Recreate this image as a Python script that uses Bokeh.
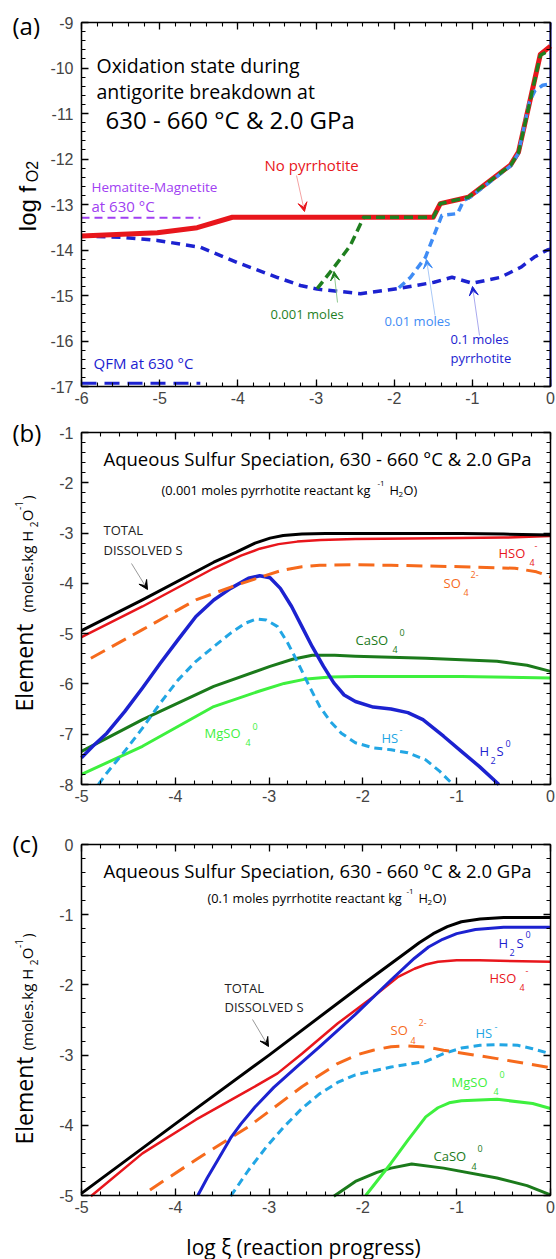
import numpy as np
from bokeh.plotting import figure
from bokeh.layouts import column
from bokeh.models import (Label, Arrow, VeeHead, FixedTicker, LinearAxis,
                          CustomJSTickFormatter, Range1d)
from bokeh.embed import file_html
from bokeh.resources import INLINE

# ---------------- DATA ----------------
# Panel (a): log fO2 vs log xi
a_nopo_x = [-6.0, -5.03, -4.52, -4.07, -1.50, -1.41, -1.05, -0.51, -0.41, -0.13, 0.0]
a_nopo_y = [-13.69, -13.62, -13.51, -13.28, -13.28, -12.98, -12.84, -12.13, -11.85, -9.70, -9.52]

a_po001_x = [-2.985, -2.77, -2.56, -2.39, -1.50, -1.41, -1.05, -0.51, -0.41, -0.13, 0.0]
a_po001_y = [-14.85, -14.38, -13.90, -13.28, -13.28, -12.98, -12.84, -12.14, -11.86, -9.72, -9.60]

a_po01_x = [-1.94, -1.79, -1.60, -1.45, -1.39, -1.19, -1.11, -1.02, -0.51, -0.41, -0.27, -0.20, -0.10, 0.0]
a_po01_y = [-14.83, -14.60, -14.16, -13.50, -13.24, -13.20, -12.91, -12.83, -12.15, -11.87, -10.75, -10.50, -10.38, -10.35]

a_po1_x = [-6.0, -5.5, -5.03, -4.48, -4.0, -3.5, -3.2, -2.985, -2.43, -1.96, -1.49, -1.26, -1.0,
           -0.64, -0.38, -0.21, -0.04, 0.0]
a_po1_y = [-13.69, -13.72, -13.79, -13.94, -14.28, -14.60, -14.78, -14.86, -14.96, -14.85, -14.71,
           -14.60, -14.73, -14.60, -14.38, -14.16, -14.0, -13.98]

a_edge_x = [0.0, 0.0]
a_edge_y = [-17.0, -9.0]

a_hm_x = [-6.0, -4.48]
a_hm_y = [-13.29, -13.29]
a_qfm_x = [-6.0, -4.48]
a_qfm_y = [-16.93, -16.93]

# Panel (b): 0.001 moles pyrrhotite
b_total_x = [-5.0, -4.35, -3.59, -3.35, -3.15, -2.99, -2.85, -2.65, -2.40, -2.08, -1.5, -0.95, -0.5, 0.0]
b_total_y = [-4.94, -4.33, -3.58, -3.38, -3.20, -3.10, -3.05, -3.02, -3.01, -3.01, -3.01, -3.01, -3.02, -3.04]

b_hso4_x = [-5.0, -4.35, -3.59, -3.30, -3.10, -2.90, -2.70, -2.45, -2.08, -1.5, -0.95, -0.5, 0.0]
b_hso4_y = [-5.07, -4.46, -3.70, -3.45, -3.31, -3.22, -3.17, -3.14, -3.12, -3.11, -3.10, -3.09, -3.06]

b_so4_x = [-4.90, -4.35, -3.78, -3.40, -3.10, -2.88, -2.65, -2.46, -2.08, -1.70, -0.95, -0.38, -0.15, 0.0]
b_so4_y = [-5.49, -4.92, -4.33, -4.07, -3.88, -3.75, -3.67, -3.64, -3.63, -3.64, -3.67, -3.70, -3.77, -3.87]

b_h2s_x = [-5.0, -4.88, -4.73, -4.54, -4.35, -4.16, -3.97, -3.78, -3.59, -3.41, -3.22, -3.10,
           -2.99, -2.88, -2.76, -2.65, -2.54, -2.42, -2.31, -2.20, -2.08, -1.89, -1.70, -1.52,
           -1.36, -1.14, -0.95, -0.76, -0.55]
b_h2s_y = [-7.47, -7.24, -6.98, -6.55, -6.08, -5.59, -5.12, -4.66, -4.33, -4.10, -3.90, -3.85,
           -3.89, -4.10, -4.46, -4.86, -5.26, -5.65, -5.98, -6.22, -6.35, -6.46, -6.50, -6.57,
           -6.71, -7.04, -7.34, -7.64, -8.0]

b_hs_x = [-4.82, -4.73, -4.54, -4.35, -4.16, -3.97, -3.78, -3.59, -3.41, -3.25, -3.14, -3.03,
          -2.91, -2.80, -2.69, -2.57, -2.46, -2.35, -2.23, -2.08, -1.89, -1.70, -1.52, -1.33,
          -1.18, -1.04]
b_hs_y = [-8.0, -7.77, -7.34, -6.88, -6.38, -5.92, -5.55, -5.26, -4.99, -4.79, -4.71, -4.73,
          -4.86, -5.19, -5.59, -6.05, -6.45, -6.74, -6.98, -7.17, -7.27, -7.31, -7.37, -7.51,
          -7.74, -8.0]

b_caso4_x = [-5.0, -4.35, -3.59, -2.99, -2.75, -2.54, -2.30, -2.08, -1.33, -0.57, -0.25, 0.0]
b_caso4_y = [-7.34, -6.71, -6.05, -5.65, -5.51, -5.43, -5.43, -5.45, -5.49, -5.55, -5.63, -5.75]

b_mgso4_x = [-5.0, -4.35, -3.59, -3.10, -2.84, -2.60, -2.35, -2.08, -0.95, 0.0]
b_mgso4_y = [-7.80, -7.24, -6.45, -6.14, -5.99, -5.90, -5.86, -5.85, -5.85, -5.88]

# Panel (c): 0.1 moles pyrrhotite
c_total_x = [-5.0, -4.0, -3.0, -2.0, -1.5, -1.40, -1.25, -1.10, -0.95, -0.75, -0.5, 0.0]
c_total_y = [-4.97, -3.98, -3.0, -1.99, -1.50, -1.40, -1.27, -1.17, -1.10, -1.06, -1.04, -1.04]

c_h2s_x = [-3.76, -3.66, -3.55, -3.41, -3.30, -3.15, -2.95, -2.70, -2.46, -2.08, -1.70, -1.45,
           -1.30, -1.15, -1.0, -0.80, -0.5, 0.0]
c_h2s_y = [-5.0, -4.75, -4.50, -4.18, -3.98, -3.74, -3.46, -3.16, -2.88, -2.42, -1.93, -1.62,
           -1.46, -1.35, -1.27, -1.21, -1.18, -1.18]

c_hso4_x = [-4.90, -4.35, -3.78, -3.22, -2.91, -2.65, -2.27, -1.89, -1.63, -1.45, -1.33, -1.20,
            -1.0, -0.76, 0.0]
c_hso4_y = [-5.01, -4.40, -3.92, -3.50, -3.26, -2.98, -2.55, -2.17, -1.89, -1.77, -1.71, -1.67,
            -1.65, -1.65, -1.67]

c_so4_x = [-4.27, -3.78, -3.22, -2.65, -2.27, -2.05, -1.89, -1.70, -1.52, -1.30, -1.14, -0.57, 0.0]
c_so4_y = [-4.92, -4.49, -4.02, -3.45, -3.12, -2.99, -2.93, -2.88, -2.87, -2.89, -2.93, -3.05, -3.18]

c_hs_x = [-3.41, -3.22, -3.03, -2.84, -2.65, -2.46, -2.27, -2.08, -1.70, -1.33, -1.14, -0.95,
          -0.75, -0.57, -0.35, -0.19, 0.0]
c_hs_y = [-5.01, -4.64, -4.31, -4.02, -3.76, -3.55, -3.39, -3.28, -3.17, -3.09, -2.98, -2.90,
          -2.86, -2.85, -2.86, -2.91, -2.98]

c_mgso4_x = [-1.97, -1.70, -1.52, -1.33, -1.20, -1.08, -0.95, -0.57, -0.19, 0.0]
c_mgso4_y = [-5.0, -4.54, -4.21, -3.88, -3.75, -3.68, -3.65, -3.63, -3.69, -3.76]

c_caso4_x = [-2.31, -2.08, -1.85, -1.70, -1.48, -1.14, -0.57, -0.25, 0.0]
c_caso4_y = [-5.01, -4.80, -4.67, -4.61, -4.55, -4.61, -4.75, -4.86, -4.99]

# Ticks
a_xticks = [-6, -5, -4, -3, -2, -1, 0]
a_xlabels = ["-6", "-5", "-4", "-3", "-2", "-1", "0"]
a_yticks = [-17, -16, -15, -14, -13, -12, -11, -10, -9]
a_ylabels = ["-17", "-16", "-15", "-14", "-13", "-12", "-11", "-10", "-9"]
bc_xticks = [-5, -4, -3, -2, -1, 0]
bc_xlabels = ["-5", "-4", "-3", "-2", "-1", "0"]
b_yticks = [-8, -7, -6, -5, -4, -3, -2, -1]
b_ylabels = ["-8", "-7", "-6", "-5", "-4", "-3", "-2", "-1"]
c_yticks = [-5, -4, -3, -2, -1, 0]
c_ylabels = ["-5", "-4", "-3", "-2", "-1", "0"]

# ---------------- STYLE ----------------
RED = "#e8161c"
GREEN_D = "#1f7f1f"
LBLUE = "#3f8cf5"
DBLUE = "#1c22d0"
PURPLE = "#a040f2"
ORANGE = "#f66a1c"
CYAN = "#22a6e4"
CA_GREEN = "#1b7a1b"
MG_GREEN = "#3ef03e"
ANN = "Open Sans"
TICKF = "Liberation Sans"

PAGE_LEFT = 81      # page x of data box left
PAGE_RIGHT = 550    # page x of data box right
FIG_LEFT = 0
FIG_W = 556


def minor(lo, hi, step=0.2):
    n = int(round((hi - lo) / step))
    return [round(lo + i * step, 6) for i in range(n + 1)]


def make_fig(xr, yr, page_top, height, box_top, box_bot, xt, xl, yt, yl):
    ppx = (PAGE_RIGHT - PAGE_LEFT) / (xr[1] - xr[0])
    ppy = (box_bot - box_top) / (yr[1] - yr[0])
    x_range = Range1d(xr[0] - (PAGE_LEFT - FIG_LEFT) / ppx,
                      xr[1] + (FIG_LEFT + FIG_W - PAGE_RIGHT) / ppx)
    y_range = Range1d(yr[0] - (page_top + height - box_bot) / ppy,
                      yr[1] + (box_top - page_top) / ppy)
    p = figure(width=FIG_W, height=height, x_range=x_range, y_range=y_range,
               output_backend="svg", toolbar_location=None,
               x_axis_location=None, y_axis_location=None,
               min_border_left=0, min_border_right=0, min_border_top=0, min_border_bottom=0)
    p.xgrid.visible = False
    p.ygrid.visible = False
    p.outline_line_color = None
    p.background_fill_color = "white"
    p.border_fill_color = "white"
    xtick = FixedTicker(ticks=xt, minor_ticks=minor(xr[0], xr[1]))
    ytick = FixedTicker(ticks=yt, minor_ticks=minor(yr[0], yr[1]))
    common = dict(major_tick_in=7, major_tick_out=0, minor_tick_in=4, minor_tick_out=0,
                  axis_line_width=1.5, major_tick_line_width=1.3, minor_tick_line_width=1.1)
    bottom = LinearAxis(ticker=xtick, fixed_location=yr[0], bounds=xr,
                        major_label_overrides={t: s for t, s in zip(xt, xl)},
                        major_label_text_font=TICKF, major_label_text_font_size="16px",
                        major_label_standoff=5, **common)
    left = LinearAxis(ticker=ytick, fixed_location=xr[0], bounds=yr,
                      major_label_overrides={t: s for t, s in zip(yt, yl)},
                      major_label_text_font=TICKF, major_label_text_font_size="16px",
                      major_label_standoff=8, **common)
    top = LinearAxis(ticker=xtick, fixed_location=yr[1], bounds=xr,
                     formatter=CustomJSTickFormatter(code="return ''"),
                     major_label_standoff=0, major_label_text_font_size="1px", **common)
    right = LinearAxis(ticker=ytick, fixed_location=xr[1], bounds=yr,
                       formatter=CustomJSTickFormatter(code="return ''"),
                       major_label_standoff=0, major_label_text_font_size="1px", **common)
    p.add_layout(bottom, "below")
    p.add_layout(left, "left")
    p.add_layout(top, "above")
    p.add_layout(right, "right")
    return p


def conv_factory(xr, yr, top, bot):
    def conv(px, py):
        x = xr[0] + (px - PAGE_LEFT) / (PAGE_RIGHT - PAGE_LEFT) * (xr[1] - xr[0])
        y = yr[1] - (py - top) / (bot - top) * (yr[1] - yr[0])
        return x, y
    return conv


def txt(p, conv, text, px, py, size, color="black", font=ANN, align="left",
        baseline="middle", angle=0.0):
    x, y = conv(px, py)
    p.add_layout(Label(x=x, y=y, text=text, text_font=font, text_font_size=f"{size}px",
                       text_color=color, text_align=align, text_baseline=baseline,
                       angle=angle))


def arrow(p, conv, p0, p1, line_color, head_color, size=9):
    x0, y0 = conv(*p0)
    x1, y1 = conv(*p1)
    p.add_layout(Arrow(x_start=x0, y_start=y0, x_end=x1, y_end=y1,
                       line_color=line_color, line_width=1,
                       end=VeeHead(size=size, fill_color=head_color, line_color=head_color,
                                   line_width=1)))


ROT = np.pi / 2

# ---------------- PANEL (a) ----------------
A_XR, A_YR, A_T, A_B = (-6, 0), (-17, -9), 22, 386
pa = make_fig(A_XR, A_YR, 0, 413, A_T, A_B, a_xticks, a_xlabels, a_yticks, a_ylabels)
ca = conv_factory(A_XR, A_YR, A_T, A_B)

pa.line(a_hm_x, a_hm_y, line_color=PURPLE, line_width=2, line_dash="8 5")
pa.line(a_qfm_x, a_qfm_y, line_color=DBLUE, line_width=3, line_dash="15 8")
pa.line(a_po1_x, a_po1_y, line_color=DBLUE, line_width=3.5, line_dash="9 6", line_join="round")
pa.line(a_edge_x, a_edge_y, line_color=DBLUE, line_width=2)
pa.line(a_nopo_x, a_nopo_y, line_color=RED, line_width=5, line_join="round")
pa.line(a_po01_x, a_po01_y, line_color=LBLUE, line_width=3.5, line_dash="8 5", line_join="round")
pa.line(a_po001_x, a_po001_y, line_color=GREEN_D, line_width=3.5, line_dash="9 5", line_join="round")

txt(pa, ca, "(a)", 12, 25, 24)
txt(pa, ca, "Oxidation state during", 96, 65, 19.5, baseline="alphabetic")
txt(pa, ca, "antigorite breakdown at", 96, 91, 19.5, baseline="alphabetic")
txt(pa, ca, "630 - 660 °C & 2.0 GPa", 105, 119, 24, baseline="alphabetic")
txt(pa, ca, "No pyrrhotite", 264, 164, 15, RED)
txt(pa, ca, "Hematite-Magnetite", 91, 186, 13.5, PURPLE)
txt(pa, ca, "at 630 °C", 91, 205, 15, PURPLE)
txt(pa, ca, "0.001 moles", 270, 313, 13, GREEN_D)
txt(pa, ca, "0.01 moles", 384, 320, 13, LBLUE)
txt(pa, ca, "0.1 moles", 450, 338, 13, DBLUE)
txt(pa, ca, "pyrrhotite", 450, 357, 13, DBLUE)
txt(pa, ca, "QFM at 630 °C", 93, 362, 15, DBLUE)
txt(pa, ca, "log f", 27, 208, 24, font=TICKF, align="center", angle=ROT)
txt(pa, ca, "O2", 32, 171, 16, font=TICKF, align="center", angle=ROT)

arrow(pa, ca, (296, 175), (304, 211), "#f4a3a3", RED)
arrow(pa, ca, (337, 302), (333.5, 271), "#8fc88f", GREEN_D)
arrow(pa, ca, (434.5, 315), (426, 259), "#a9c9f7", LBLUE)
arrow(pa, ca, (479, 335), (472, 286), "#a9a9ee", DBLUE)

# ---------------- PANEL (b) ----------------
B_XR, B_YR, B_T, B_B = (-5, 0), (-8, -1), 432, 784
pb = make_fig(B_XR, B_YR, 413, 407, B_T, B_B, bc_xticks, bc_xlabels, b_yticks, b_ylabels)
cb = conv_factory(B_XR, B_YR, B_T, B_B)

pb.line(b_mgso4_x, b_mgso4_y, line_color=MG_GREEN, line_width=3, line_join="round")
pb.line(b_caso4_x, b_caso4_y, line_color=CA_GREEN, line_width=3, line_join="round")
pb.line(b_hs_x, b_hs_y, line_color=CYAN, line_width=3, line_dash="8 5", line_join="round")
pb.line(b_h2s_x, b_h2s_y, line_color=DBLUE, line_width=3.5, line_join="round")
pb.line(b_so4_x, b_so4_y, line_color=ORANGE, line_width=3, line_dash="16 8", line_join="round")
pb.line(b_hso4_x, b_hso4_y, line_color=RED, line_width=2.5, line_join="round")
pb.line(b_total_x, b_total_y, line_color="black", line_width=3, line_join="round")

txt(pb, cb, "(b)", 12, 432, 24)
txt(pb, cb, "Aqueous Sulfur Speciation, 630 - 660 °C & 2.0 GPa", 103, 458, 18.5)
txt(pb, cb, "(0.001 moles pyrrhotite reactant kg", 161, 489, 12.8)
txt(pb, cb, "-1", 377, 483, 8)
txt(pb, cb, "H", 389, 489, 12.8)
txt(pb, cb, "2", 398, 494, 8)
txt(pb, cb, "O)", 403, 489, 12.8)
txt(pb, cb, "TOTAL", 103, 529, 13, "#222222")
txt(pb, cb, "DISSOLVED S", 103, 549, 13, "#222222")
arrow(pb, cb, (131, 563), (147, 589), "#999999", "black")
for t, x, y, s in (("HSO", 498, 552, 13), ("4", 529, 562, 9), ("-", 534, 545, 9)):
    txt(pb, cb, t, x, y, s, RED)
for t, x, y, s in (("SO", 443, 582, 13), ("4", 463, 592, 9), ("2-", 470, 574, 9)):
    txt(pb, cb, t, x, y, s, ORANGE)
for t, x, y, s in (("CaSO", 355, 639, 13), ("4", 392, 649, 9), ("0", 399, 632, 9)):
    txt(pb, cb, t, x, y, s, CA_GREEN)
for t, x, y, s in (("MgSO", 204, 732, 13), ("4", 245, 742, 9), ("0", 252, 726, 9)):
    txt(pb, cb, t, x, y, s, MG_GREEN)
for t, x, y, s in (("HS", 381, 737, 13), ("-", 399, 729, 9)):
    txt(pb, cb, t, x, y, s, CYAN)
for t, x, y, s in (("H", 479, 750, 13), ("2", 490, 760, 9), ("S", 496, 750, 13), ("0", 505, 743, 9)):
    txt(pb, cb, t, x, y, s, DBLUE)
# y-axis label
txt(pb, cb, "Element", 23, 667, 23, align="center", angle=ROT)
txt(pb, cb, "(moles.kg H", 26, 571, 15, align="center", angle=ROT)
txt(pb, cb, "2", 33, 524, 10, align="center", angle=ROT)
txt(pb, cb, "O", 26, 515, 15, align="center", angle=ROT)
txt(pb, cb, "-1", 18, 505, 10, align="center", angle=ROT)
txt(pb, cb, ")", 26, 497, 15, align="center", angle=ROT)

# ---------------- PANEL (c) ----------------
C_XR, C_YR, C_T, C_B = (-5, 0), (-5, 0), 844, 1195
pc = make_fig(C_XR, C_YR, 820, 439, C_T, C_B, bc_xticks, bc_xlabels, c_yticks, c_ylabels)
cc = conv_factory(C_XR, C_YR, C_T, C_B)

pc.line(c_caso4_x, c_caso4_y, line_color=CA_GREEN, line_width=3, line_join="round")
pc.line(c_mgso4_x, c_mgso4_y, line_color=MG_GREEN, line_width=3, line_join="round")
pc.line(c_hs_x, c_hs_y, line_color=CYAN, line_width=3, line_dash="8 5", line_join="round")
pc.line(c_so4_x, c_so4_y, line_color=ORANGE, line_width=3, line_dash="16 9", line_join="round")
pc.line(c_hso4_x, c_hso4_y, line_color=RED, line_width=2.5, line_join="round")
pc.line(c_h2s_x, c_h2s_y, line_color=DBLUE, line_width=3, line_join="round")
pc.line(c_total_x, c_total_y, line_color="black", line_width=3, line_join="round")

txt(pc, cc, "(c)", 12, 843, 24)
txt(pc, cc, "Aqueous Sulfur Speciation, 630 - 660 °C & 2.0 GPa", 103, 870, 18.5)
txt(pc, cc, "(0.1 moles pyrrhotite reactant kg", 207, 897, 12.8)
txt(pc, cc, "-1", 406, 891, 8)
txt(pc, cc, "H", 418, 897, 12.8)
txt(pc, cc, "2", 427, 902, 8)
txt(pc, cc, "O)", 432, 897, 12.8)
txt(pc, cc, "TOTAL", 224, 987, 13, "#222222")
txt(pc, cc, "DISSOLVED S", 224, 1006, 13, "#222222")
arrow(pc, cc, (252, 1019), (268, 1046), "#999999", "black")
for t, x, y, s in (("H", 498, 942, 13), ("2", 509, 952, 9), ("S", 516, 942, 13), ("0", 525, 934, 9)):
    txt(pc, cc, t, x, y, s, DBLUE)
for t, x, y, s in (("HSO", 489, 977, 13), ("4", 519, 987, 9), ("-", 525, 970, 9)):
    txt(pc, cc, t, x, y, s, RED)
for t, x, y, s in (("SO", 390, 1029, 13), ("4", 410, 1040, 9), ("2-", 418, 1022, 9)):
    txt(pc, cc, t, x, y, s, ORANGE)
for t, x, y, s in (("HS", 475, 1032, 13), ("-", 494, 1026, 9)):
    txt(pc, cc, t, x, y, s, CYAN)
for t, x, y, s in (("MgSO", 451, 1081, 13), ("4", 493, 1091, 9), ("0", 499, 1074, 9)):
    txt(pc, cc, t, x, y, s, MG_GREEN)
for t, x, y, s in (("CaSO", 433, 1155, 13), ("4", 471, 1166, 9), ("0", 477, 1148, 9)):
    txt(pc, cc, t, x, y, s, CA_GREEN)
txt(pc, cc, "Element", 23, 1100, 23, align="center", angle=ROT)
txt(pc, cc, "(moles.kg H", 26, 1009, 15, align="center", angle=ROT)
txt(pc, cc, "2", 33, 962, 10, align="center", angle=ROT)
txt(pc, cc, "O", 26, 953, 15, align="center", angle=ROT)
txt(pc, cc, "-1", 18, 943, 10, align="center", angle=ROT)
txt(pc, cc, ")", 26, 935, 15, align="center", angle=ROT)
txt(pc, cc, "log ξ (reaction progress)", 303, 1246, 21, align="center")

layout = column(pa, pb, pc, spacing=0)
open("out.html", "w").write(file_html(layout, INLINE))
